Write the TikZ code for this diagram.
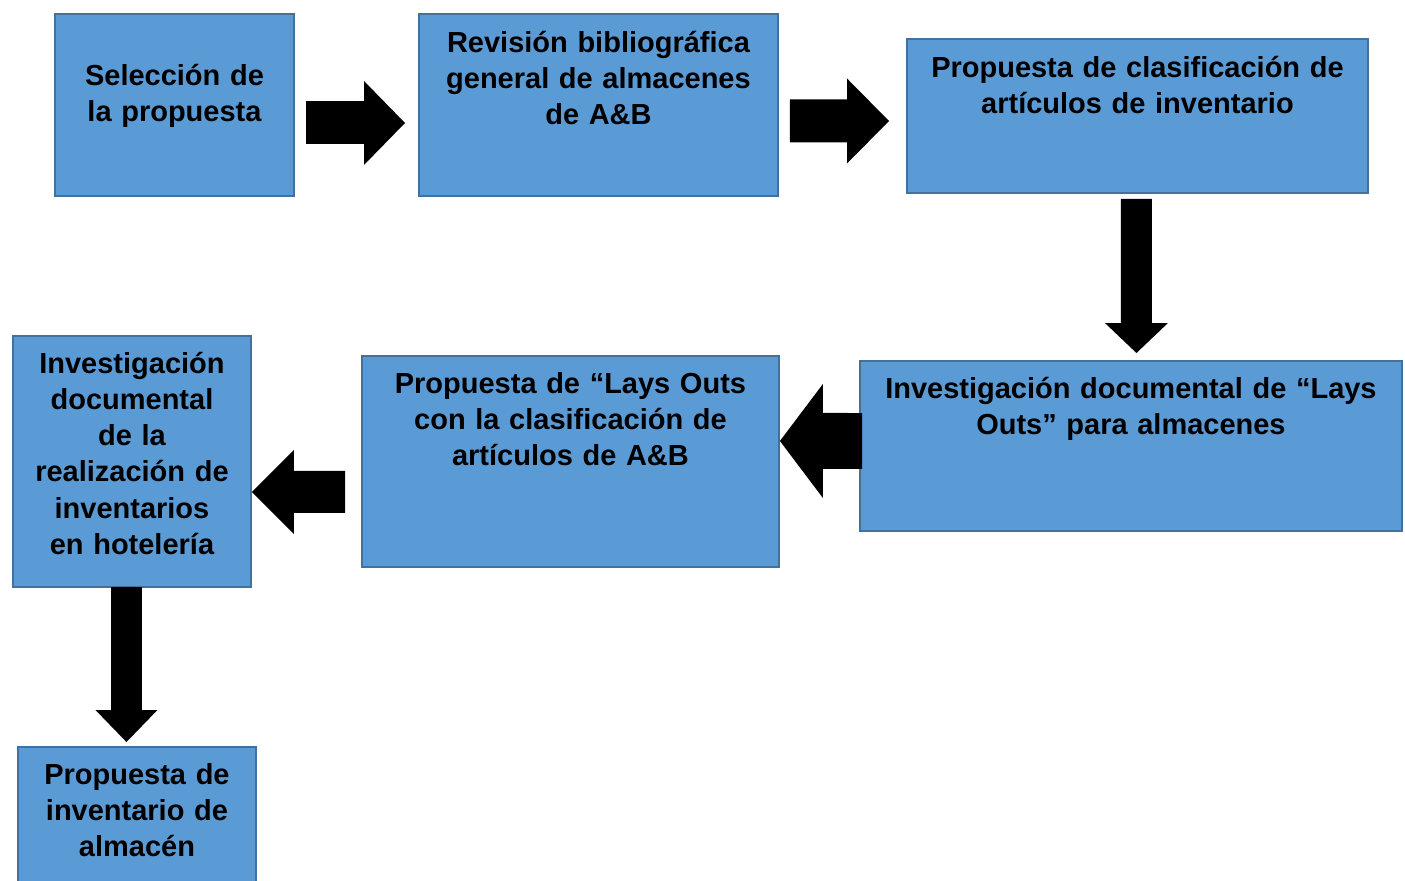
\documentclass[tikz,border=0pt]{standalone}
\usepackage{fontspec}
\setmainfont{Liberation Sans}
\usetikzlibrary{arrows.meta}
\definecolor{relleno}{HTML}{5B9BD5}
\definecolor{borde}{HTML}{41719C}

\begin{document}
\begin{tikzpicture}[x=0.02cm,y=-0.02cm,
caja/.style={draw=borde,fill=relleno,line width=0.04cm,inner sep=0pt,
  anchor=north west,align=center,font=\bfseries\fontsize{16.5}{20.6}\selectfont},
flecha/.style n args={3}{line width=#1,-{Triangle[length=#2,width=#3,line width=0pt]}}]
\useasboundingbox (0,0) rectangle (1405,880);
% primera fila
\node[caja,text width=4.78cm,text height=1.428cm,text depth=2.212cm] (sel) at (54,13)
  {Selección de\\la propuesta};
\node[caja,text width=7.18cm,text height=0.768cm,text depth=2.872cm] (rev) at (418,13)
  {Revisión bibliográfica\\general de almacenes\\de A\&B};
\node[caja,text width=9.22cm,text height=0.768cm,text depth=2.312cm] (clas) at (906,38)
  {Propuesta de clasificación de\\artículos de inventario};
% segunda fila
\node[caja,text width=10.84cm,text height=0.748cm,text depth=2.652cm] (invlay) at (859,360)
  {Investigación documental de “Lays\\Outs” para almacenes};
\node[caja,text width=8.34cm,text height=0.748cm,text depth=3.472cm] (proplay) at (361,355)
  {Propuesta de “Lays Outs\\con la clasificación de\\artículos de A\&B};
\node[caja,text width=4.76cm,text height=0.748cm,text depth=4.272cm] (invhot) at (12,335)
  {Investigación\\documental\\de la\\realización de\\inventarios\\en hotelería};
% ultima caja
\node[caja,text width=4.76cm,text height=0.748cm,text depth=2.252cm] (propinv) at (17,746)
  {Propuesta de\\inventario de\\almacén};
% flechas
\draw[flecha={0.86cm}{0.82cm}{1.68cm}] ([shift={(11,18)}]sel.east) -- ([shift={(-13,18)}]rev.west);
\draw[flecha={0.86cm}{0.84cm}{1.70cm}] ([shift={(11,16)}]rev.east) -- ([shift={(-17,5)}]clas.west);
\draw[flecha={0.62cm}{0.60cm}{1.26cm}] ([shift={(-1,5)}]clas.south) -- ([shift={(5.5,-7)}]invlay.north);
\draw[flecha={1.12cm}{0.86cm}{2.28cm}] ([shift={(3,-5)}]invlay.west) -- ([shift={(0,-20.5)}]proplay.east);
\draw[flecha={0.84cm}{0.84cm}{1.68cm}] ([shift={(-16,30.5)}]proplay.west) -- ([shift={(0,30.5)}]invhot.east);
\draw[flecha={0.62cm}{0.64cm}{1.24cm}] ([shift={(-5.5,-1)}]invhot.south) -- ([shift={(-10.5,-4)}]propinv.north);
\end{tikzpicture}
\end{document}
